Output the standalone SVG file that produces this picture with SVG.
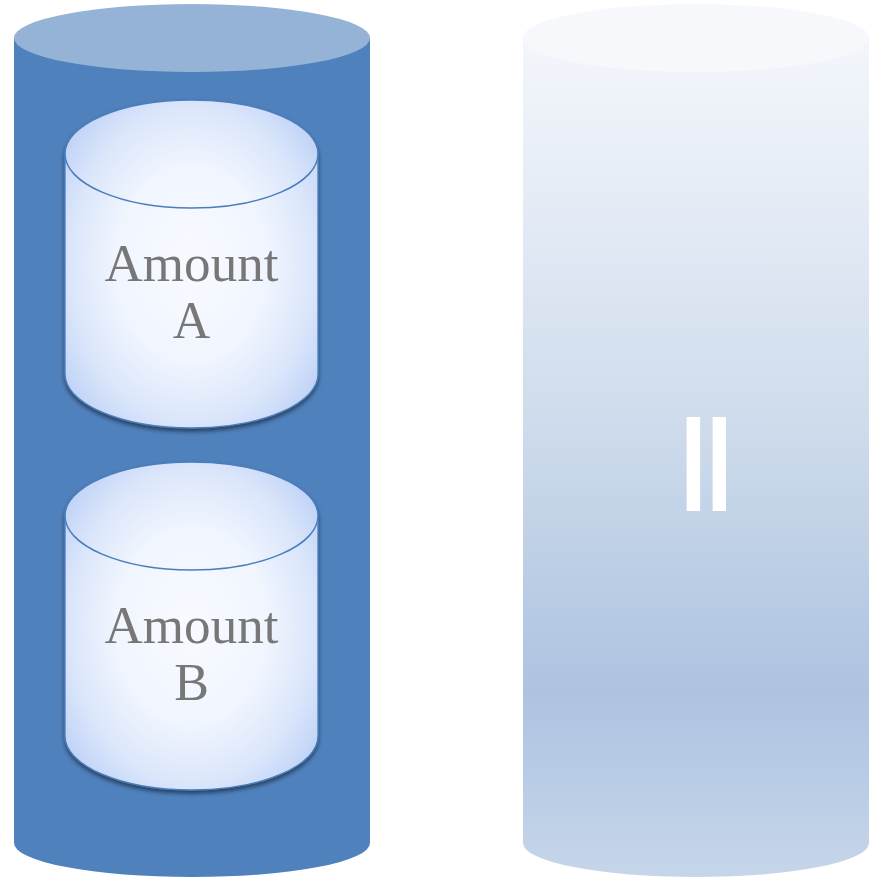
<svg xmlns="http://www.w3.org/2000/svg" width="869" height="878" viewBox="0 0 869 878">
<defs>
<linearGradient id="rg" x1="0" y1="0" x2="0" y2="1">
<stop offset="0" stop-color="#f3f6fb"/>
<stop offset="0.15" stop-color="#e8eef7"/>
<stop offset="0.45" stop-color="#cfdcec"/>
<stop offset="0.78" stop-color="#adc3e0"/>
<stop offset="1" stop-color="#c6d6ea"/>
</linearGradient>
<radialGradient id="ig" cx="0.5" cy="0.5" r="0.6">
<stop offset="0" stop-color="#f8faff"/>
<stop offset="0.5" stop-color="#f0f5fe"/>
<stop offset="0.8" stop-color="#dbe6fb"/>
<stop offset="1" stop-color="#c3d5f7"/>
</radialGradient>
<filter id="sh" x="-10%" y="-10%" width="120%" height="125%">
<feGaussianBlur in="SourceAlpha" stdDeviation="2"/>
<feOffset dy="3"/>
<feComponentTransfer><feFuncA type="linear" slope="0.5"/></feComponentTransfer>
<feMerge><feMergeNode/><feMergeNode in="SourceGraphic"/></feMerge>
</filter>
</defs>
<style>
.inner{fill:url(#ig);stroke:#4a7ebb;stroke-width:1.3}
.lbl{font-family:"Liberation Serif",serif;font-size:52px;fill:#777777;text-anchor:middle}
</style>
<g id="outer-left">
<path d="M14,38 V843 A178,34 0 0 0 370,843 V38 Z" fill="#4f81bd"/>
<ellipse cx="192" cy="38" rx="178" ry="34" fill="#95b3d7"/>
</g>
<g id="outer-right">
<path d="M523,38 V843 A173,34 0 0 0 869,843 V38 Z" fill="url(#rg)"/>
<ellipse cx="696" cy="38" rx="173" ry="34" fill="#f6f8fb"/>
<text x="0" y="0" transform="translate(711,464) rotate(90) scale(1.12,1)" font-family="DejaVu Sans" font-size="130" fill="#ffffff" stroke="#ffffff" stroke-width="2.6" text-anchor="middle" dominant-baseline="central">=</text>
</g>
<g id="amount-a" filter="url(#sh)">
<path class="inner" d="M65,154 V374 A126.5,54 0 0 0 318,374 V154 A126.5,54 0 0 0 65,154 Z"/>
<path d="M65,154 A126.5,54 0 0 0 318,154" fill="none" stroke="#4a7ebb" stroke-width="1.5"/>
<text class="lbl" x="191.5" y="281" textLength="174" lengthAdjust="spacingAndGlyphs">Amount</text>
<text class="lbl" x="191.5" y="338">A</text>
</g>
<g id="amount-b" filter="url(#sh)">
<path class="inner" d="M65,516 V736 A126.5,54 0 0 0 318,736 V516 A126.5,54 0 0 0 65,516 Z"/>
<path d="M65,516 A126.5,54 0 0 0 318,516" fill="none" stroke="#4a7ebb" stroke-width="1.5"/>
<text class="lbl" x="191.5" y="643" textLength="174" lengthAdjust="spacingAndGlyphs">Amount</text>
<text class="lbl" x="191.5" y="700">B</text>
</g>
<g id="connectors"></g>
</svg>
